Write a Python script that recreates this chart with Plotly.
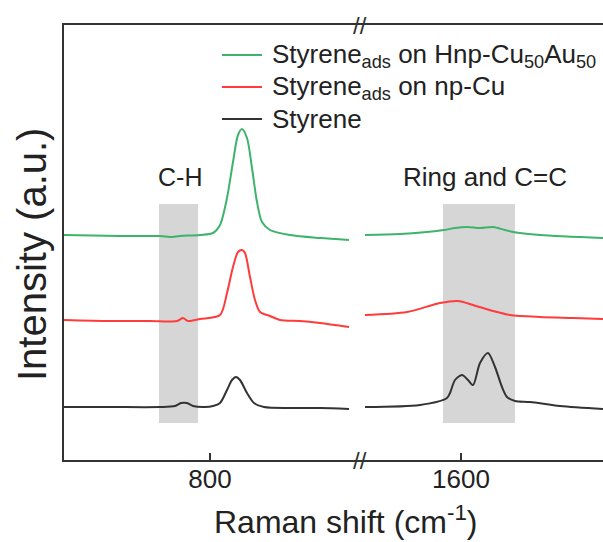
import plotly.graph_objects as go

# ---------------- data ----------------
# Left panel (low wavenumber)
green_left_x = [508, 620, 700, 720, 740, 780, 806, 820, 834, 846, 856, 864, 874, 884, 894, 904, 920, 960, 1020, 1078]
green_left_y = [225, 224, 224, 223, 224, 225, 227, 235, 262, 298, 325, 331, 322, 292, 258, 238, 230, 225, 222, 220]

red_left_x = [508, 600, 680, 734, 746, 756, 780, 820, 834, 846, 856, 864, 870, 880, 890, 900, 920, 940, 980, 1020, 1078]
red_left_y = [140, 139, 139, 139, 142, 139, 141, 145, 167, 193, 208, 210, 207, 183, 160, 148, 144, 140, 139, 137, 133]

black_left_x = [508, 600, 700, 730, 742, 754, 766, 790, 806, 820, 834, 844, 852, 860, 874, 888, 908, 960, 1020, 1078]
black_left_y = [53, 53, 53, 54, 57, 57, 54, 53, 54, 57, 70, 80, 83, 80, 67, 57, 53, 52, 52, 51]

# Right panel (high wavenumber)
green_right_x = [1408, 1478, 1566, 1588, 1612, 1638, 1664, 1688, 1704, 1758, 1884]
green_right_y = [225, 226, 230, 232, 233, 232, 233, 230, 228, 225, 222]

red_right_x = [1408, 1492, 1558, 1594, 1624, 1664, 1698, 1758, 1824, 1884]
red_right_y = [145, 148, 157, 159, 155, 149, 145, 143, 142, 141]

black_right_x = [1408, 1518, 1572, 1578, 1588, 1602, 1614, 1624, 1638, 1654, 1668, 1682, 1692, 1708, 1738, 1798, 1884]
black_right_y = [53, 55, 62, 67, 80, 85, 80, 75, 97, 107, 93, 73, 63, 59, 58, 54, 51]

series_names = ["Styrene<sub>ads</sub> on Hnp-Cu<sub>50</sub>Au<sub>50</sub>",
                "Styrene<sub>ads</sub> on np-Cu",
                "Styrene"]
series_colors = ["#3db36b", "#ff3b3b", "#333333"]

band_left = [698, 776]
band_right = [1564, 1708]
band_y = [37, 256]

tick_values = [800, 1600]
tick_labels = ["800", "1600"]

left_range = [508, 1100]
right_range = [1398, 1884]
y_range = [0, 435]

FONT = "Liberation Sans, Arial, sans-serif"
TXT = "#222222"

# plot-area geometry in pixels
L, T, B = 64, 25, 460
W, H = 603 - L, B - T


def px_x(p):
    return (p - L) / W


def px_y(p):
    return (B - p) / H


fig = go.Figure()

lefts = [(green_left_x, green_left_y), (red_left_x, red_left_y), (black_left_x, black_left_y)]
rights = [(green_right_x, green_right_y), (red_right_x, red_right_y), (black_right_x, black_right_y)]

for i, name in enumerate(series_names):
    lx, ly = lefts[i]
    rx, ry = rights[i]
    fig.add_trace(go.Scatter(x=lx, y=ly, mode="lines", name=name,
                             line=dict(color=series_colors[i], width=2, shape="spline", smoothing=0.8),
                             xaxis="x", yaxis="y", showlegend=False))
    fig.add_trace(go.Scatter(x=rx, y=ry, mode="lines", name=name,
                             line=dict(color=series_colors[i], width=2, shape="spline", smoothing=0.8),
                             xaxis="x2", yaxis="y", showlegend=False))

split = px_x(360)

shapes = [
    dict(type="rect", xref="x", yref="y", x0=band_left[0], x1=band_left[1], y0=band_y[0], y1=band_y[1],
         fillcolor="#d6d6d6", line=dict(width=0), layer="below"),
    dict(type="rect", xref="x2", yref="y", x0=band_right[0], x1=band_right[1], y0=band_y[0], y1=band_y[1],
         fillcolor="#d6d6d6", line=dict(width=0), layer="below"),
]

annotations = [
    dict(text="C-H", xref="x", yref="y", x=740, y=283, showarrow=False,
         font=dict(size=25, family=FONT, color=TXT)),
    dict(text="Ring and C=C", xref="x2", yref="y", x=1648, y=283, showarrow=False,
         font=dict(size=26, family=FONT, color=TXT)),
    dict(text="//", xref="paper", yref="paper", x=split, y=1, yanchor="middle", xanchor="center",
         showarrow=False, font=dict(size=24, family=FONT, color="#333333")),
    dict(text="//", xref="paper", yref="paper", x=split, y=0, yanchor="middle", xanchor="center",
         showarrow=False, font=dict(size=24, family=FONT, color="#333333")),
    dict(text="Raman shift (cm<sup>-1</sup>)", xref="paper", yref="paper", x=px_x(346), y=px_y(520),
         xanchor="center", yanchor="middle", showarrow=False,
         font=dict(size=32, family=FONT, color=TXT)),
    dict(text="Intensity (a.u.)", xref="paper", yref="paper", x=px_x(32), y=px_y(255),
         xanchor="center", yanchor="middle", textangle=-90, showarrow=False,
         font=dict(size=40, family=FONT, color=TXT)),
]

# legend (drawn as line samples + labels)
legend_rows = [55, 87, 119]
for i, name in enumerate(series_names):
    yy = px_y(legend_rows[i])
    shapes.append(dict(type="line", xref="paper", yref="paper", x0=px_x(222), x1=px_x(262), y0=yy, y1=yy,
                       line=dict(color=series_colors[i], width=2)))
    annotations.append(dict(text=name, xref="paper", yref="paper", x=px_x(270), y=yy,
                            xanchor="left", yanchor="middle", showarrow=False,
                            font=dict(size=26, family=FONT, color=TXT)))

axis_common = dict(showgrid=False, zeroline=False, showline=True, linecolor="#333333", linewidth=2,
                   mirror=True, ticks="inside", ticklen=7, tickwidth=1.5, tickcolor="#333333",
                   tickfont=dict(size=26, family=FONT, color=TXT), anchor="y", ticklabelstandoff=-5)

fig.update_layout(
    width=603, height=542,
    margin=dict(l=L, r=0, t=T, b=542 - B),
    paper_bgcolor="white", plot_bgcolor="white",
    font=dict(family=FONT, color=TXT),
    showlegend=False,
    xaxis=dict(domain=[0, split], range=left_range, tickvals=[tick_values[0]], ticktext=[tick_labels[0]],
               **axis_common),
    xaxis2=dict(domain=[split, 1], range=right_range, tickvals=[tick_values[1]], ticktext=[tick_labels[1]],
                **axis_common),
    yaxis=dict(range=y_range, showgrid=False, zeroline=False, showticklabels=False,
               ticks="", showline=True, linecolor="#333333", linewidth=2),
    shapes=shapes,
    annotations=annotations,
)

fig.write_html("out.html", config={"displayModeBar": False},
               post_script="document.body.style.margin='0px';")
